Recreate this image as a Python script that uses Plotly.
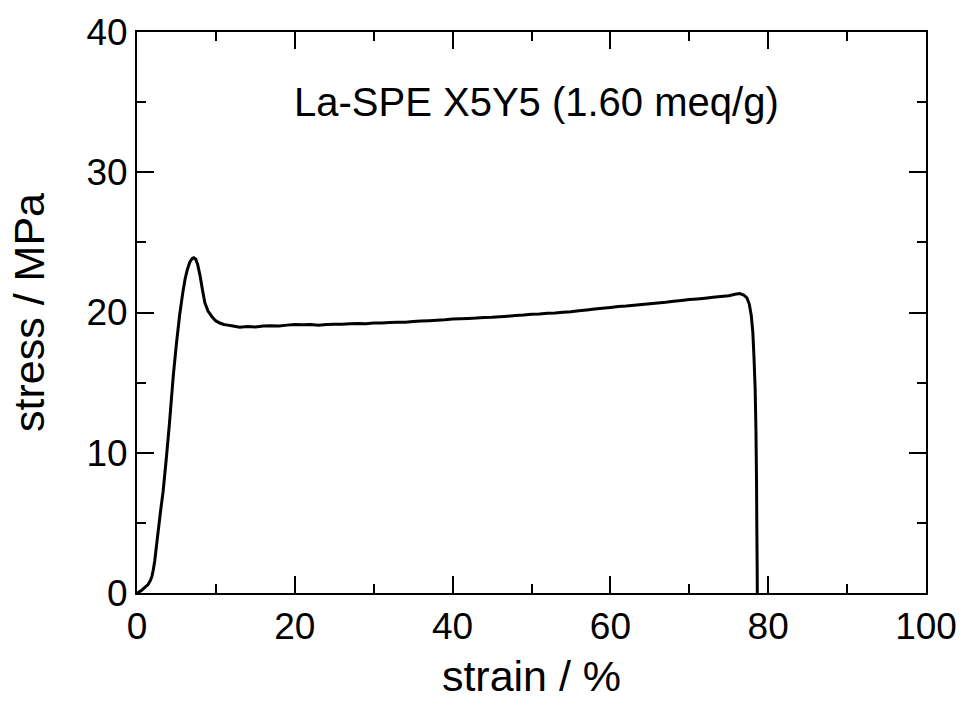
import plotly.graph_objects as go

# rise and yield peak
strain_rise = [0.0, 0.2, 0.6, 1.0, 1.4, 1.7, 1.9, 2.05, 2.25, 2.6, 3.0, 3.3, 3.7, 4.1, 4.6, 5.0, 5.4, 5.8,
               6.1, 6.4, 6.7, 7.0, 7.2, 7.45, 7.7, 8.0, 8.3, 8.6, 9.0, 9.5, 10.0, 10.5, 11.0, 11.5, 12.0]
stress_rise = [0.0, 0.05, 0.2, 0.4, 0.6, 0.9, 1.2, 1.6, 2.3, 4.0, 5.9, 7.2, 9.5, 12.0, 15.5, 17.8, 19.8, 21.4,
               22.4, 23.1, 23.6, 23.85, 23.9, 23.8, 23.4, 22.6, 21.6, 20.7, 20.1, 19.7, 19.4, 19.25, 19.15, 19.1, 19.05]

# plateau
strain_plateau = [13, 14, 15, 16, 17, 18, 19, 20, 21, 22, 23, 24, 25, 26, 27, 28, 29, 30, 31, 32, 33, 34, 35,
                  36, 37, 38, 39, 40, 41, 42, 43, 44, 45, 46, 47, 48, 49, 50, 51, 52, 53, 54, 55, 56, 57, 58,
                  59, 60, 61, 62, 63, 64, 65, 66, 67, 68, 69, 70, 71, 72, 73, 74, 75]
stress_plateau = [18.95, 19.0, 18.97, 19.03, 19.05, 19.04, 19.1, 19.14, 19.12, 19.15, 19.1, 19.15, 19.17,
                  19.16, 19.2, 19.22, 19.2, 19.25, 19.26, 19.28, 19.31, 19.3, 19.36, 19.4, 19.42, 19.45, 19.48,
                  19.53, 19.55, 19.58, 19.6, 19.64, 19.66, 19.7, 19.74, 19.78, 19.82, 19.88, 19.9, 19.95, 19.97,
                  20.02, 20.06, 20.12, 20.18, 20.25, 20.3, 20.36, 20.42, 20.46, 20.52, 20.57, 20.62, 20.68,
                  20.73, 20.8, 20.86, 20.92, 20.97, 21.02, 21.08, 21.14, 21.2]

# fracture
strain_break = [75.8, 76.4, 76.9, 77.3, 77.6, 77.85, 78.05, 78.2, 78.35, 78.45, 78.52, 78.56, 78.6, 78.62]
stress_break = [21.3, 21.35, 21.25, 21.05, 20.6, 19.8, 18.6, 16.8, 14.5, 11.5, 8.0, 4.5, 2.0, 0.0]

ann_text = "La-SPE X5Y5 (1.60 meq/g)"
x_ticks = [0, 20, 40, 60, 80, 100]
y_ticks = [0, 10, 20, 30, 40]

strain = strain_rise + strain_plateau + strain_break
stress = stress_rise + stress_plateau + stress_break

font_family = "Liberation Sans, Arial, sans-serif"

fig = go.Figure()
fig.add_trace(go.Scatter(x=strain, y=stress, mode="lines",
                         line=dict(color="black", width=3, simplify=False), showlegend=False))

axis_common = dict(showline=True, linecolor="black", linewidth=2, mirror="ticks",
                   ticks="inside", tickcolor="black", tickwidth=2, ticklen=17,
                   showgrid=False, zeroline=False,
                   tickfont=dict(family=font_family, size=37, color="black"))

fig.update_xaxes(range=[0, 100], tickvals=x_ticks, ticktext=[str(v) for v in x_ticks],
                 minor=dict(tickvals=[10, 30, 50, 70, 90], ticks="inside", ticklen=9,
                            tickcolor="black", tickwidth=2),
                 title=dict(text="strain / %", font=dict(family=font_family, size=43, color="black"),
                            standoff=14),
                 **axis_common)
fig.update_yaxes(range=[0, 40], tickvals=y_ticks, ticktext=[str(v) for v in y_ticks],
                 minor=dict(tickvals=[5, 15, 25, 35], ticks="inside", ticklen=9,
                            tickcolor="black", tickwidth=2),
                 title=dict(text="stress / MPa", font=dict(family=font_family, size=43, color="black"),
                            standoff=28),
                 **axis_common)

fig.add_annotation(x=0.506, y=0.875, xref="paper", yref="paper", text=ann_text, showarrow=False,
                   font=dict(family=font_family, size=40, color="black"), xanchor="center", yanchor="middle")

fig.update_layout(width=969, height=704, paper_bgcolor="white", plot_bgcolor="white",
                  margin=dict(l=137, r=38, t=30, b=109))

fig.write_html("out.html")
